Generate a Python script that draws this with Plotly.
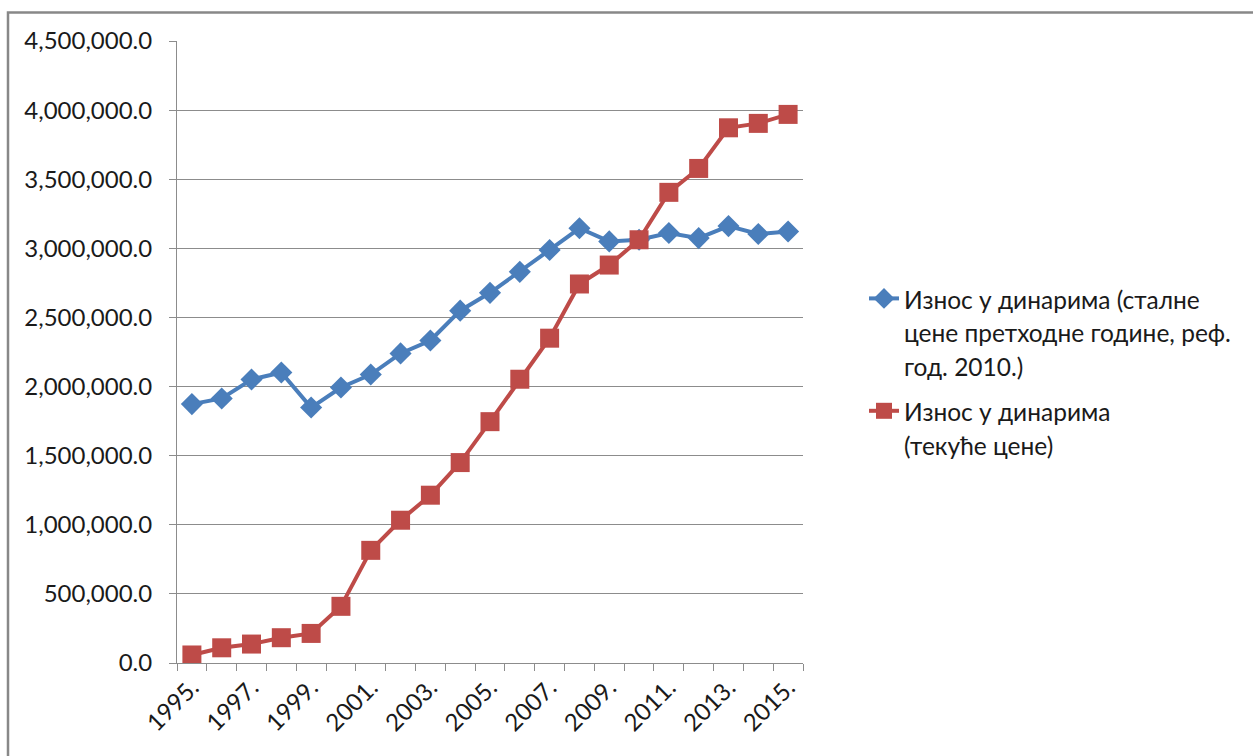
import plotly.graph_objects as go

# Years on the category axis and the labels shown under it
years = list(range(1995, 2016))
label_years = list(range(1995, 2016, 2))
label_text = [f"{y}." for y in label_years]

# Amount in dinars, constant prices of the previous year (ref. year 2010)
constant_prices = [1873000, 1914000, 2051000, 2102000, 1848000, 1993000, 2087000,
                   2240000, 2333000, 2549000, 2678000, 2830000, 2988000, 3145000,
                   3050000, 3062000, 3111000, 3074000, 3161000, 3104000, 3122000]

# Amount in dinars, current prices
current_prices = [58000, 110000, 137000, 183000, 214000, 410000, 815000,
                  1033000, 1214000, 1450000, 1746000, 2053000, 2350000, 2742000,
                  2879000, 3062000, 3405000, 3578000, 3872000, 3904000, 3969000]

name_constant = "Износ у динарима (сталне<br>цене претходне године, реф.<br>год. 2010.)"
name_current = "Износ у динарима<br>(текуће цене)"

BLUE = "#4A7EBB"
RED = "#BE4B48"
GRID = "#8C8C8C"
FONT = "Lato, Open Sans, sans-serif"


def small(text):
    # wrap each legend line in a smaller span so the lines sit further apart
    return "<br>".join(f"<span style='font-size:24.5px'>{p}</span>" for p in text.split("<br>"))


fig = go.Figure()
fig.add_trace(go.Scatter(
    x=years, y=constant_prices, name=small(name_constant), mode="lines+markers",
    line=dict(color=BLUE, width=4),
    marker=dict(symbol="diamond", size=17, color=BLUE),
    legendgroup="a",
))
fig.add_trace(go.Scatter(
    x=years, y=current_prices, name=small(name_current), mode="lines+markers",
    line=dict(color=RED, width=4),
    marker=dict(symbol="square", size=19, color=RED),
    legendgroup="b",
))

# plot area in pixels: left 177, right 803, top 41, bottom 663
L, R, T, B = 177, 803, 41, 663
W, H = 1253, 756


def px_x(p):
    return (p - L) / (R - L)


def px_y(p):
    return (B - p) / (B - T)


fig.update_layout(
    width=W, height=H,
    margin=dict(l=L, r=W - R, t=T, b=H - B, pad=0),
    paper_bgcolor="white", plot_bgcolor="white",
    font=dict(family=FONT, size=24, color="#1a1a1a"),
    showlegend=True,
    legend=dict(
        x=px_x(864), y=px_y(275), xanchor="left", yanchor="top",
        font=dict(family=FONT, size=26, color="#1a1a1a"),
        valign="top", traceorder="grouped", tracegroupgap=8,
        bgcolor="rgba(0,0,0,0)",
    ),
    xaxis=dict(
        range=[1994.5, 2015.5],
        tickmode="array", tickvals=label_years, ticktext=label_text,
        tickangle=-45, ticks="", showgrid=False, zeroline=False,
        showline=True, linecolor=GRID, linewidth=1,
        tickfont=dict(family=FONT, size=24, color="#1a1a1a"),
        minor=dict(tick0=1994.5, dtick=1, ticks="outside", ticklen=7,
                   tickcolor=GRID, tickwidth=1, showgrid=False),
    ),
    yaxis=dict(
        range=[0, 4500000], tickmode="linear", tick0=0, dtick=500000,
        tickformat=",.1f", ticks="outside", ticklen=7, tickcolor=GRID,
        ticklabelstandoff=12,
        showgrid=True, gridcolor=GRID, gridwidth=1, zeroline=False,
        showline=True, linecolor=GRID, linewidth=1,
        tickfont=dict(family=FONT, size=24, color="#1a1a1a"),
    ),
    shapes=[dict(
        type="rect", xref="paper", yref="paper",
        x0=px_x(8), x1=px_x(1270), y0=px_y(790), y1=px_y(12.5),
        line=dict(color="#888888", width=2.5), fillcolor="rgba(0,0,0,0)",
        layer="below",
    )],
)

fig.write_html("out.html")
